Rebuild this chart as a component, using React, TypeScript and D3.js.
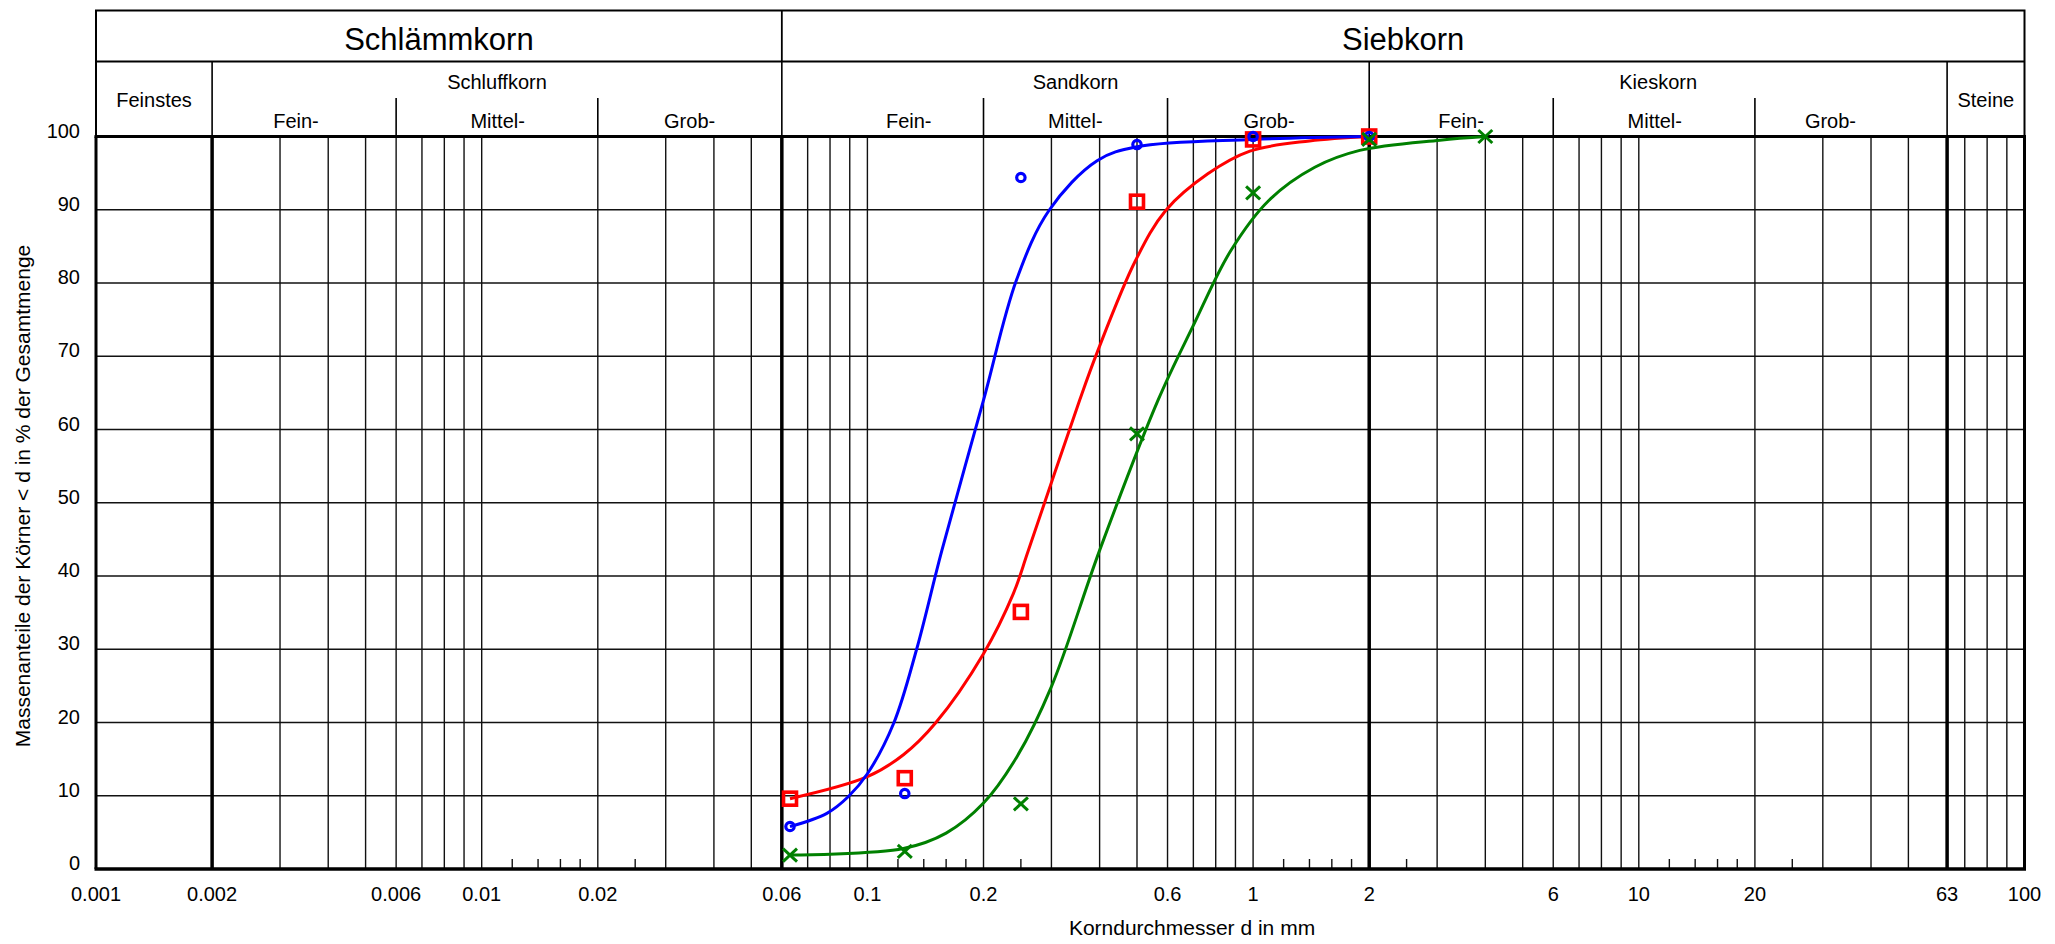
import React from 'react';
import * as d3 from 'd3';

const W = 2055;
const H = 944;
const FONT = '"Liberation Sans", Arial, Helvetica, sans-serif';

// Korndurchmesser-Achse (mm)
const xTickValues = [0.001, 0.002, 0.006, 0.01, 0.02, 0.06, 0.1, 0.2, 0.6, 1, 2, 6, 10, 20, 63, 100];
const yTickValues = [0, 10, 20, 30, 40, 50, 60, 70, 80, 90, 100];

// Gitterlinien
const boldLines = [0.002, 0.06, 2, 63];
const thinLines = [
  0.003, 0.004, 0.005, 0.006, 0.007, 0.008, 0.009, 0.01,
  0.02, 0.03, 0.04, 0.05, 0.07, 0.08, 0.09, 0.1,
  0.2, 0.3, 0.4, 0.5, 0.6, 0.7, 0.8, 0.9, 1,
  3, 4, 5, 6, 7, 8, 9, 10,
  20, 30, 40, 50, 70, 80, 90,
];
const shortTicks = [
  0.012, 0.014, 0.016, 0.018, 0.025,
  0.12, 0.14, 0.16, 0.18, 0.25,
  1.2, 1.4, 1.6, 1.8, 2.5,
  12, 14, 16, 18, 25,
];

// Kopfzeile
const mainGroups = [
  { label: 'Schlämmkorn', from: 0.001, to: 0.06 },
  { label: 'Siebkorn', from: 0.06, to: 100 },
];
const soilGroups = [
  { label: 'Feinstes', from: 0.001, to: 0.002, single: true },
  { label: 'Schluffkorn', from: 0.002, to: 0.06, single: false },
  { label: 'Sandkorn', from: 0.06, to: 2, single: false },
  { label: 'Kieskorn', from: 2, to: 63, single: false },
  { label: 'Steine', from: 63, to: 100, single: true },
];
const subGroups = [
  { label: 'Fein-', from: 0.002, to: 0.006, at: 0.0033 },
  { label: 'Mittel-', from: 0.006, to: 0.02, at: 0.011 },
  { label: 'Grob-', from: 0.02, to: 0.06, at: 0.0346 },
  { label: 'Fein-', from: 0.06, to: 0.2, at: 0.128 },
  { label: 'Mittel-', from: 0.2, to: 0.6, at: 0.346 },
  { label: 'Grob-', from: 0.6, to: 2, at: 1.1 },
  { label: 'Fein-', from: 2, to: 6, at: 3.46 },
  { label: 'Mittel-', from: 6, to: 20, at: 11 },
  { label: 'Grob-', from: 20, to: 63, at: 31.4 },
];

// Messpunkte
const blueD = [0.063, 0.125, 0.25, 0.5, 1, 2];
const blueP = [5.8, 10.3, 94.4, 98.9, 100, 100];
const redD = [0.063, 0.125, 0.25, 0.5, 1, 2];
const redP = [9.6, 12.4, 35.1, 91.1, 99.6, 100];
const greenD = [0.063, 0.125, 0.25, 0.5, 1, 2, 4];
const greenP = [1.9, 2.4, 8.9, 59.4, 92.3, 99.6, 100];

// Ausgleichskurven
const blueCurve: [number, number][] = [
  [0.063, 5.8], [0.0785, 7.6], [0.0893, 9.9], [0.1, 13.0], [0.117, 19.9],
  [0.134, 29.9], [0.156, 43.5], [0.2, 64.0], [0.2435, 80.4], [0.2956, 89.9],
  [0.394, 96.7], [0.5, 98.6], [1, 99.6], [2, 100],
];
const redCurve: [number, number][] = [
  [0.063, 9.6], [0.1, 12.6], [0.124, 15.6], [0.15, 19.9], [0.2, 29.4],
  [0.239, 37.6], [0.2615, 43.5], [0.355, 64.0], [0.394, 70.5], [0.496, 83.1],
  [0.5935, 89.9], [0.763, 94.9], [0.981, 98.0], [1.4, 99.4], [2, 100],
];
const greenCurve: [number, number][] = [
  [0.063, 1.9], [0.124, 2.8], [0.16, 4.9], [0.2, 9.0], [0.244, 15.3],
  [0.3, 24.9], [0.4, 43.5], [0.567, 64.0], [0.697, 74.0], [0.875, 84.4],
  [1.1, 91.3], [1.445, 95.8], [1.89, 98.1], [3.05, 99.5], [4, 100],
];

const BLUE = '#0000ff';
const RED = '#ff0000';
const GREEN = '#008000';

export default function App() {
  const left = 96;
  const right = 2024.5;
  const yTop = 10.5;
  const yHead = 61.5;
  const ySub = 98;
  const yPlotTop = 136.5;
  const yPlotBot = 869;

  const x = d3.scaleLog().domain([0.001, 100]).range([left, right]);
  const y = d3.scaleLinear().domain([0, 100]).range([yPlotBot, yPlotTop]);

  const line = d3.line<[number, number]>()
    .x(d => x(d[0]))
    .y(d => y(d[1]))
    .curve(d3.curveCatmullRom.alpha(0.5));

  const gridColor = '#111';

  return (
    <svg width={W} height={H} style={{ position: 'absolute', left: 0, top: 0, background: '#fff' }}
      fontFamily={FONT}>
      {/* Horizontale Gitterlinien */}
      {yTickValues.filter(v => v > 0 && v < 100).map(v => (
        <line key={'h' + v} x1={left} x2={right} y1={y(v)} y2={y(v)} stroke={gridColor} strokeWidth={1.4} />
      ))}
      {/* Vertikale Gitterlinien */}
      {thinLines.map(v => (
        <line key={'v' + v} x1={x(v)} x2={x(v)} y1={yPlotTop} y2={yPlotBot} stroke={gridColor} strokeWidth={1.4} />
      ))}
      {shortTicks.map(v => (
        <line key={'s' + v} x1={x(v)} x2={x(v)} y1={yPlotBot - 10} y2={yPlotBot} stroke={gridColor} strokeWidth={1.4} />
      ))}
      {boldLines.map(v => (
        <line key={'b' + v} x1={x(v)} x2={x(v)} y1={yPlotTop} y2={yPlotBot} stroke="#000" strokeWidth={3.5} />
      ))}

      {/* Rahmen Diagramm */}
      <line x1={left - 1.5} x2={right + 1.5} y1={yPlotTop} y2={yPlotTop} stroke="#000" strokeWidth={3} />
      <line x1={left - 1.5} x2={right + 1.5} y1={yPlotBot} y2={yPlotBot} stroke="#000" strokeWidth={3.5} />
      <line x1={left} x2={left} y1={yPlotTop} y2={yPlotBot} stroke="#000" strokeWidth={3} />
      <line x1={right} x2={right} y1={yPlotTop} y2={yPlotBot} stroke="#000" strokeWidth={3} />

      {/* Kopf */}
      <rect x={left} y={yTop} width={right - left} height={yPlotTop - yTop} fill="none" stroke="#000" strokeWidth={2} />
      <line x1={left} x2={right} y1={yHead} y2={yHead} stroke="#000" strokeWidth={1.8} />
      <line x1={x(0.06)} x2={x(0.06)} y1={yTop} y2={yHead} stroke="#000" strokeWidth={1.8} />
      {soilGroups.slice(1).map(g => (
        <line key={'sg' + g.from} x1={x(g.from)} x2={x(g.from)} y1={yHead} y2={yPlotTop} stroke="#000" strokeWidth={1.6} />
      ))}
      {subGroups.filter(g => !soilGroups.some(s => s.from === g.from)).map(g => (
        <line key={'sub' + g.from} x1={x(g.from)} x2={x(g.from)} y1={ySub} y2={yPlotTop} stroke="#000" strokeWidth={1.6} />
      ))}
      {mainGroups.map(g => (
        <text key={g.label} x={(x(g.from) + x(g.to)) / 2} y={50} textAnchor="middle" fontSize={31} fill="#000">
          {g.label}
        </text>
      ))}
      {soilGroups.map(g => (
        <text key={g.label} x={(x(g.from) + x(g.to)) / 2} y={g.single ? 107 : 89} textAnchor="middle"
          fontSize={20} fill="#000">
          {g.label}
        </text>
      ))}
      {subGroups.map(g => (
        <text key={g.label + g.from} x={x(g.at)} y={128} textAnchor="middle" fontSize={20} fill="#000">
          {g.label}
        </text>
      ))}

      {/* Achsenbeschriftung */}
      {yTickValues.map(v => (
        <text key={'yl' + v} x={80} y={y(v) + 1} textAnchor="end" fontSize={20} fill="#000">{v}</text>
      ))}
      {xTickValues.map(v => (
        <text key={'xl' + v} x={x(v)} y={901} textAnchor="middle" fontSize={20} fill="#000">{String(v)}</text>
      ))}
      <text x={1192} y={935} textAnchor="middle" fontSize={21} fill="#000">Korndurchmesser d in mm</text>
      <text transform={`translate(30,496) rotate(-90)`} textAnchor="middle" fontSize={21} fill="#000">
        Massenanteile der Körner &lt; d in % der Gesamtmenge
      </text>

      {/* Kurven */}
      <path d={line(greenCurve) || ''} fill="none" stroke={GREEN} strokeWidth={3} />
      <path d={line(redCurve) || ''} fill="none" stroke={RED} strokeWidth={3} />
      <path d={line(blueCurve) || ''} fill="none" stroke={BLUE} strokeWidth={3} />

      {/* Messpunkte */}
      {redD.map((d, i) => (
        <rect key={'r' + d} x={x(d) - 6.5} y={y(redP[i]) - 6.5} width={13} height={13}
          fill="none" stroke={RED} strokeWidth={3.6} />
      ))}
      {blueD.map((d, i) => (
        <circle key={'c' + d} cx={x(d)} cy={y(blueP[i])} r={4.2} fill="none" stroke={BLUE} strokeWidth={3.2} />
      ))}
      {greenD.map((d, i) => (
        <g key={'g' + d} stroke={GREEN} strokeWidth={3}>
          <line x1={x(d) - 7} x2={x(d) + 7} y1={y(greenP[i]) - 6.5} y2={y(greenP[i]) + 6.5} />
          <line x1={x(d) - 7} x2={x(d) + 7} y1={y(greenP[i]) + 6.5} y2={y(greenP[i]) - 6.5} />
        </g>
      ))}
    </svg>
  );
}
